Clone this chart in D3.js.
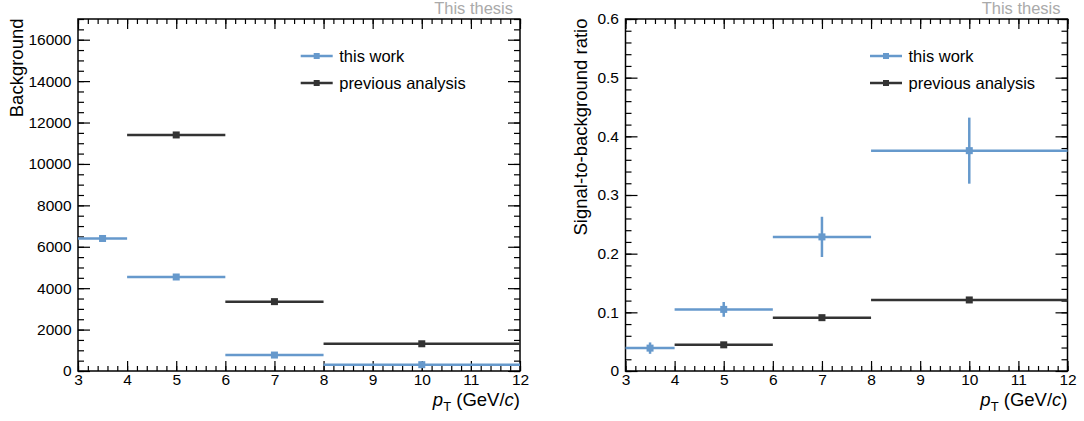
<!DOCTYPE html>
<html>
<head>
<meta charset="utf-8">
<script src="https://cdn.jsdelivr.net/npm/d3@7"></script>
<style>
  body { margin: 0; background: #fff; }
  svg text { font-family: "Liberation Sans", Arial, Helvetica, sans-serif; }
</style>
</head>
<body>
<svg id="chart" width="1084" height="421"></svg>
<script>
// bins in pT (GeV/c)
const workLo = [3, 4, 6, 8];
const workHi = [4, 6, 8, 12];
const workCenter = [3.5, 5, 7, 10];
const prevLo = [4, 6, 8];
const prevHi = [6, 8, 12];
const prevCenter = [5, 7, 10];

// background
const workBkg = [6400, 4540, 770, 305];
const workBkgErr = [60, 50, 30, 20];
const prevBkg = [11400, 3350, 1315];
const prevBkgErr = [60, 40, 30];

// signal-to-background ratio
const workSB = [0.039, 0.105, 0.2286, 0.3756];
const workSBErr = [0.0097, 0.0126, 0.0343, 0.0563];
const prevSB = [0.0446, 0.0909, 0.1211];
const prevSBErr = [0.002, 0.003, 0.004];

const legendNames = ['this work', 'previous analysis'];
const blue = '#6699cc', dark = '#333333';

const svg = d3.select('#chart');
const yTop = 19, yBottom = 371;

function makeSeries(lo, hi, c, v, e) {
    return lo.map((d, i) => ({lo: d, hi: hi[i], x: c[i], y: v[i], err: e[i]}));
}

function panel(opt, series) {
    const {left, right, yMax, yMajor, yMinor, yTitle, yFmt, titleOffset, legendOffset} = opt;
    const x = d3.scaleLinear().domain([3, 12]).range([left, right]);
    const y = d3.scaleLinear().domain([0, yMax]).range([yBottom, yTop]);
    const g = svg.append('g');

    const xMajor = d3.range(3, 12.01, 1);
    const xMinor = d3.range(3, 12.01, 0.2);
    const yMaj = d3.range(0, yMax + 1e-9, yMajor);
    const yMin = d3.range(0, yMax + 1e-9, yMinor);

    const styleAxis = sel => {
        sel.select('.domain').remove();
        sel.selectAll('line').attr('stroke', '#000').attr('stroke-width', 1.2);
        sel.selectAll('text').attr('font-size', 15.5).attr('fill', '#000')
            .attr('font-family', '"Liberation Sans", Arial, sans-serif');
    };

    // bottom
    g.append('g').attr('transform', `translate(0,${yBottom})`)
        .call(d3.axisBottom(x).tickValues(xMinor).tickSize(-5).tickFormat('')).call(styleAxis);
    g.append('g').attr('transform', `translate(0,${yBottom})`)
        .call(d3.axisBottom(x).tickValues(xMajor).tickSize(-10).tickPadding(3).tickFormat(d3.format('d')))
        .call(styleAxis);
    // top mirror
    g.append('g').attr('transform', `translate(0,${yTop})`)
        .call(d3.axisTop(x).tickValues(xMinor).tickSize(-5).tickFormat('')).call(styleAxis);
    g.append('g').attr('transform', `translate(0,${yTop})`)
        .call(d3.axisTop(x).tickValues(xMajor).tickSize(-10).tickFormat('')).call(styleAxis);
    // left
    g.append('g').attr('transform', `translate(${left},0)`)
        .call(d3.axisLeft(y).tickValues(yMin).tickSize(-6).tickFormat('')).call(styleAxis);
    g.append('g').attr('transform', `translate(${left},0)`)
        .call(d3.axisLeft(y).tickValues(yMaj).tickSize(-12).tickPadding(6.5).tickFormat(yFmt))
        .call(styleAxis);
    // right mirror
    g.append('g').attr('transform', `translate(${right},0)`)
        .call(d3.axisRight(y).tickValues(yMin).tickSize(-6).tickFormat('')).call(styleAxis);
    g.append('g').attr('transform', `translate(${right},0)`)
        .call(d3.axisRight(y).tickValues(yMaj).tickSize(-12).tickFormat('')).call(styleAxis);

    // frame
    g.append('rect')
        .attr('x', left).attr('y', yTop)
        .attr('width', right - left).attr('height', yBottom - yTop)
        .attr('fill', 'none').attr('stroke', '#000').attr('stroke-width', 1.5);

    // data
    series.forEach(s => {
        const sg = g.append('g');
        sg.selectAll('line.h').data(s.data).join('line')
            .attr('x1', d => x(d.lo)).attr('x2', d => x(d.hi))
            .attr('y1', d => y(d.y)).attr('y2', d => y(d.y))
            .attr('stroke', s.color).attr('stroke-width', 2.5);
        sg.selectAll('line.v').data(s.data).join('line')
            .attr('x1', d => x(d.x)).attr('x2', d => x(d.x))
            .attr('y1', d => y(d.y - d.err)).attr('y2', d => y(d.y + d.err))
            .attr('stroke', s.color).attr('stroke-width', 2.5);
        sg.selectAll('rect').data(s.data).join('rect')
            .attr('x', d => x(d.x) - 3.5).attr('y', d => y(d.y) - 3.5)
            .attr('width', 7).attr('height', 7)
            .attr('fill', s.color);
    });

    // legend
    series.forEach((s, i) => {
        const ly = 56 + i * 27;
        const lg = g.append('g').attr('transform', `translate(${right - legendOffset},${ly})`);
        lg.append('line').attr('x1', 0).attr('x2', 32).attr('y1', 0).attr('y2', 0)
            .attr('stroke', s.color).attr('stroke-width', 2.5);
        lg.append('rect').attr('x', 13).attr('y', -3).attr('width', 6).attr('height', 6)
            .attr('fill', s.color);
        lg.append('text').attr('x', 38.5).attr('y', 6)
            .attr('font-size', 16.5).attr('fill', '#000').text(legendNames[i]);
    });

    // "This thesis"
    g.append('text').attr('x', right - 7).attr('y', 14)
        .attr('text-anchor', 'end').attr('font-size', 16.5).attr('fill', '#aaaaaa')
        .text('This thesis');

    // x title
    const xt = g.append('text').attr('x', right).attr('y', 406)
        .attr('text-anchor', 'end').attr('font-size', 18.5).attr('fill', '#000');
    xt.append('tspan').attr('font-style', 'italic').text('p');
    xt.append('tspan').attr('font-size', 13).attr('dy', 5).text('T');
    xt.append('tspan').attr('dy', -5).text(' (GeV/');
    xt.append('tspan').attr('font-style', 'italic').text('c');
    xt.append('tspan').text(')');

    // y title
    g.append('text')
        .attr('transform', `translate(${left - titleOffset},${yTop - 0.5}) rotate(-90)`)
        .attr('text-anchor', 'end').attr('font-size', 18.5).attr('fill', '#000')
        .text(yTitle);
}

panel({left: 78, right: 520, yMax: 17000, yMajor: 2000, yMinor: 500,
       yTitle: 'Background', yFmt: d3.format('d'), titleOffset: 55.5, legendOffset: 219.3}, [
    {color: blue, data: makeSeries(workLo, workHi, workCenter, workBkg, workBkgErr)},
    {color: dark, data: makeSeries(prevLo, prevHi, prevCenter, prevBkg, prevBkgErr)}
]);

panel({left: 625.5, right: 1067.5, yMax: 0.6, yMajor: 0.1, yMinor: 0.02,
       yTitle: 'Signal-to-background ratio', yFmt: d => d === 0 ? '0' : d3.format('.1f')(d),
       titleOffset: 39, legendOffset: 197.5}, [
    {color: blue, data: makeSeries(workLo, workHi, workCenter, workSB, workSBErr)},
    {color: dark, data: makeSeries(prevLo, prevHi, prevCenter, prevSB, prevSBErr)}
]);
</script>
</body>
</html>
